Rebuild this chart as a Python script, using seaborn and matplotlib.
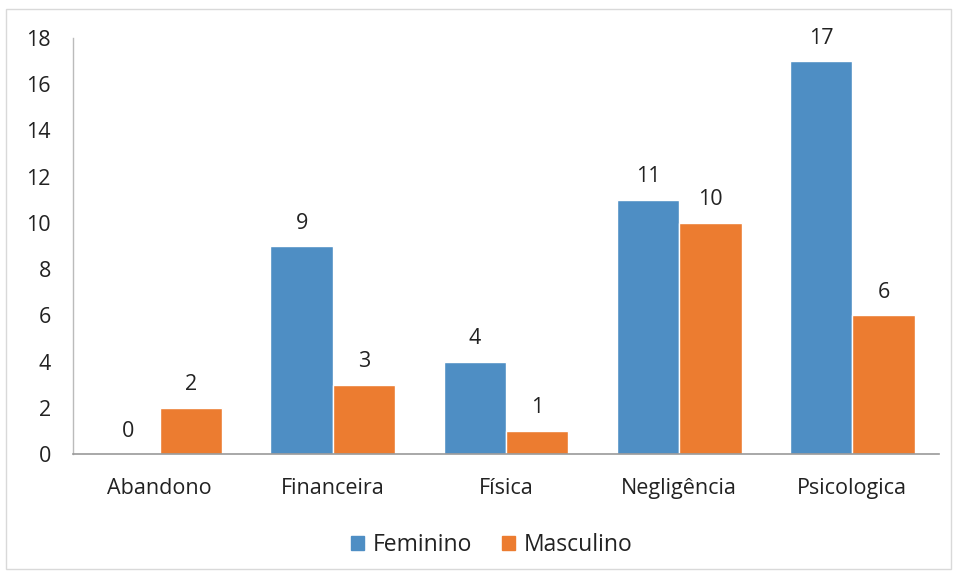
import pandas as pd
import matplotlib
matplotlib.use('Agg')
import matplotlib.pyplot as plt
import seaborn as sns
from matplotlib.patches import Rectangle

# ── データ ───────────────────────────────
categorias = ['Abandono', 'Financeira', 'Física', 'Negligência', 'Psicologica']
feminino   = [0, 9, 4, 11, 17]
masculino  = [2, 3, 1, 10, 6]
series     = ['Feminino', 'Masculino']
yticks     = [0, 2, 4, 6, 8, 10, 12, 14, 16, 18]

AZUL    = '#4E8EC4'
LARANJA = '#EC7C30'

df = pd.DataFrame({
    'Categoria': categorias * 2,
    'Sexo': [series[0]] * len(categorias) + [series[1]] * len(categorias),
    'Valor': feminino + masculino,
})

sns.set_theme(style='white')
plt.rcParams['font.family'] = ['Open Sans', 'DejaVu Sans']

fig = plt.figure(figsize=(9.59, 5.76), dpi=100)
ax = fig.add_axes([0.0761, 0.2118, 0.903, 0.7222])

sns.barplot(data=df, x='Categoria', y='Valor', hue='Sexo',
            palette=[AZUL, LARANJA], width=0.72, saturation=1,
            ax=ax, legend=False)

for cont in ax.containers:
    ax.bar_label(cont, fmt='{:.0f}', padding=9, fontsize=15.5, color='#222222')

ax.set_xlim(-0.5, 4.5)
ax.set_ylim(0, 18)
ax.set_yticks(yticks)
ax.tick_params(axis='both', length=0, labelsize=15.5, colors='#222222')
ax.tick_params(axis='x', pad=17)
ax.tick_params(axis='y', pad=16)
ax.set_xlabel('')
ax.set_ylabel('')

for s in ['top', 'right']:
    ax.spines[s].set_visible(False)
ax.spines['left'].set_color('#BBBBBB')
ax.spines['bottom'].set_color('#999999')
ax.spines['left'].set_linewidth(1)
ax.spines['bottom'].set_linewidth(1.2)

# legenda embaixo, quadradinhos
handles = [Rectangle((0, 0), 1, 1, color=AZUL), Rectangle((0, 0), 1, 1, color=LARANJA)]
fig.legend(handles, series, loc='center', bbox_to_anchor=(0.513, 0.053),
           ncol=2, frameon=False, fontsize=16.5, handlelength=0.55, handleheight=0.55,
           handletextpad=0.4, columnspacing=1.3, labelcolor='#222222')

# moldura do gráfico
fig.add_artist(Rectangle((0.006, 0.012), 0.986, 0.972, transform=fig.transFigure,
                         fill=False, edgecolor='#D9D9D9', linewidth=1))

fig.savefig('out.png', dpi=100)
